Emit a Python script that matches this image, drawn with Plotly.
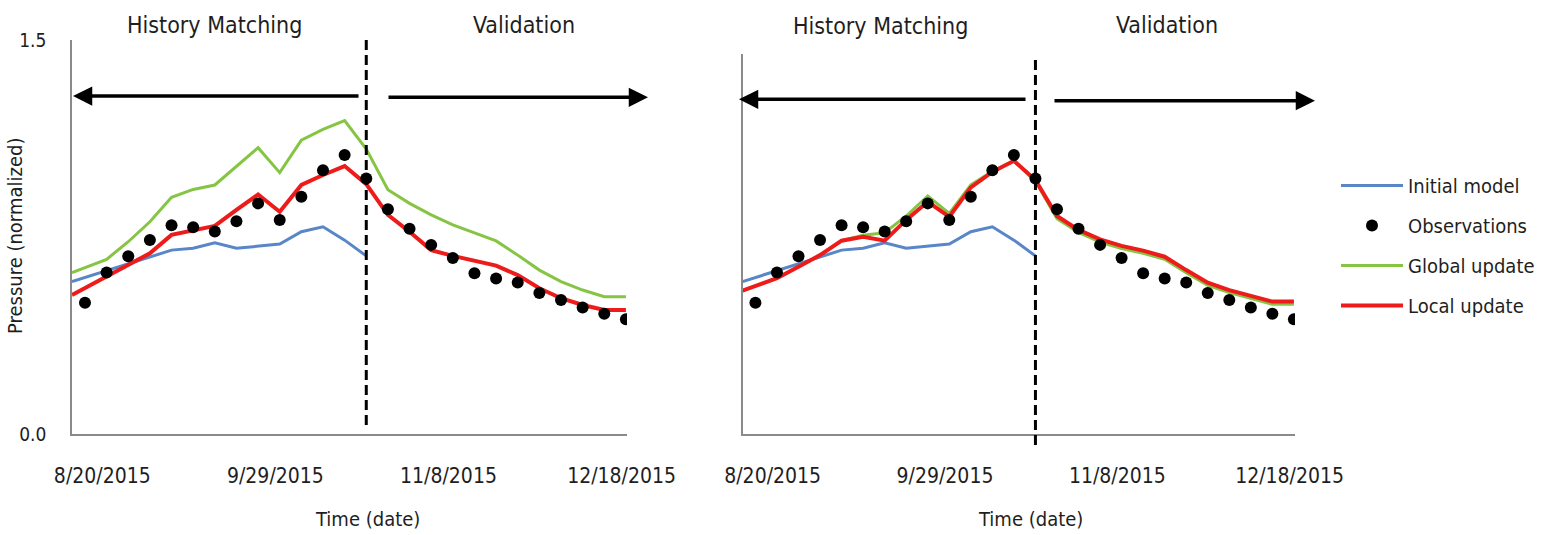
import plotly.graph_objects as go

# ---------------- data ----------------
obs_dates = ["2015-08-16", "2015-08-21", "2015-08-26", "2015-08-31", "2015-09-05",
             "2015-09-10", "2015-09-15", "2015-09-20", "2015-09-25", "2015-09-30",
             "2015-10-05", "2015-10-10", "2015-10-15", "2015-10-20", "2015-10-25",
             "2015-10-30", "2015-11-04", "2015-11-09", "2015-11-14", "2015-11-19",
             "2015-11-24", "2015-11-29", "2015-12-04", "2015-12-09", "2015-12-14",
             "2015-12-19"]
observations = [0.500, 0.615, 0.677, 0.739, 0.795, 0.787, 0.771, 0.810, 0.878, 0.815,
                0.903, 1.004, 1.062, 0.973, 0.856, 0.781, 0.720, 0.670, 0.612, 0.592,
                0.577, 0.537, 0.510, 0.482, 0.458, 0.437]

model_dates = ["2015-08-13", "2015-08-21", "2015-08-26", "2015-08-31", "2015-09-05",
               "2015-09-10", "2015-09-15", "2015-09-20", "2015-09-25", "2015-09-30",
               "2015-10-05", "2015-10-10", "2015-10-15", "2015-10-20", "2015-10-25",
               "2015-10-30", "2015-11-04", "2015-11-09", "2015-11-14", "2015-11-19",
               "2015-11-24", "2015-11-29", "2015-12-04", "2015-12-09", "2015-12-14",
               "2015-12-19"]
initial_model = [0.580, 0.622, 0.650, 0.675, 0.700, 0.707, 0.728, 0.707, 0.716, 0.723,
                 0.770, 0.789, 0.738, 0.678]

global_left = [0.614, 0.665, 0.732, 0.808, 0.901, 0.931, 0.948, 1.018, 1.090, 0.995,
               1.119, 1.160, 1.193, 1.085, 0.930, 0.878, 0.834, 0.796, 0.766, 0.735,
               0.681, 0.624, 0.580, 0.548, 0.523, 0.523]
local_left = [0.529, 0.599, 0.643, 0.688, 0.758, 0.774, 0.792, 0.853, 0.912, 0.846,
              0.948, 0.986, 1.020, 0.951, 0.834, 0.770, 0.700, 0.678, 0.660, 0.641,
              0.605, 0.555, 0.517, 0.491, 0.472, 0.472]

global_right = [0.546, 0.593, 0.637, 0.681, 0.736, 0.757, 0.766, 0.830, 0.906, 0.840,
                0.948, 1.000, 1.040, 0.962, 0.820, 0.767, 0.731, 0.706, 0.688, 0.665,
                0.614, 0.566, 0.538, 0.515, 0.494, 0.494]
local_right = [0.546, 0.593, 0.637, 0.681, 0.736, 0.751, 0.736, 0.815, 0.884, 0.827,
               0.939, 0.998, 1.040, 0.967, 0.830, 0.777, 0.741, 0.716, 0.698, 0.675,
               0.624, 0.576, 0.548, 0.525, 0.504, 0.504]

split_date = "2015-10-20"
tick_dates = ["2015-08-20", "2015-09-29", "2015-11-08", "2015-12-18"]
series_names = ["Initial model", "Observations", "Global update", "Local update"]

# ---------------- style ----------------
W, H = 1564, 535
FONT = "DejaVu Sans Condensed, Liberation Sans Narrow, DejaVu Sans, sans-serif"
TXT = "#1e1e1e"
BLUE, GREEN, RED = "#5886C6", "#86C444", "#EE1B1B"
AXC = "#8a8a8a"


def px(x):
    return x / W


def py(y):
    return 1 - y / H


fig = go.Figure()
rank = {"Initial model": 1, "Observations": 2, "Global update": 3, "Local update": 4}

for i, (gvals, lvals) in enumerate([(global_left, local_left), (global_right, local_right)]):
    xa = "x" if i == 0 else "x2"
    ya = "y" if i == 0 else "y2"
    show = i == 0
    fig.add_trace(go.Scatter(x=model_dates[:len(initial_model)], y=initial_model, mode="lines",
                             name=series_names[0], legendgroup="a", showlegend=show,
                             line=dict(color=BLUE, width=3), xaxis=xa, yaxis=ya))
    fig.add_trace(go.Scatter(x=model_dates, y=gvals, mode="lines",
                             name=series_names[2], legendgroup="c", showlegend=show,
                             line=dict(color=GREEN, width=3), xaxis=xa, yaxis=ya))
    fig.add_trace(go.Scatter(x=model_dates, y=lvals, mode="lines",
                             name=series_names[3], legendgroup="d", showlegend=show,
                             line=dict(color=RED, width=4), xaxis=xa, yaxis=ya))
    fig.add_trace(go.Scatter(x=obs_dates, y=observations, mode="markers",
                             name=series_names[1], legendgroup="b", showlegend=show,
                             marker=dict(color="black", size=12, symbol="circle"),
                             xaxis=xa, yaxis=ya))

for tr in fig.data:
    tr.legendrank = rank[tr.name]

xrange = ["2015-08-13", "2015-12-19 06:00"]
xcommon = dict(type="date", range=xrange, tickvals=tick_dates, tickformat="%-m/%-d/%Y",
               showline=True, linecolor=AXC, linewidth=1.5, ticks="", showgrid=False,
               zeroline=False, tickfont=dict(family=FONT, size=21, color=TXT),
               ticklabelstandoff=22, automargin=False)

fig.update_layout(
    width=W, height=H,
    margin=dict(l=0, r=0, t=0, b=0, autoexpand=False),
    paper_bgcolor="white", plot_bgcolor="white",
    font=dict(family=FONT, color=TXT),
    xaxis=dict(domain=[px(72), px(627)], anchor="y", **xcommon),
    xaxis2=dict(domain=[px(742.5), px(1295)], anchor="y2", **xcommon),
    yaxis=dict(domain=[py(434), py(40)], range=[0, 1.5], tickvals=[0, 1.5],
               tickformat=".1f", showline=True, linecolor=AXC, linewidth=1.5,
               ticks="", showgrid=False, zeroline=False, ticklabelstandoff=20,
               automargin=False, tickfont=dict(family=FONT, size=19, color=TXT)),
    yaxis2=dict(domain=[py(434), py(54)], range=[0, (434 - 54) / 262.67], anchor="x2",
                showticklabels=False, showline=True, linecolor=AXC, linewidth=1.5,
                ticks="", showgrid=False, zeroline=False, automargin=False),
    legend=dict(x=px(1336), y=py(166), xanchor="left", yanchor="top",
                font=dict(family=FONT, size=20, color=TXT), tracegroupgap=11,
                bgcolor="rgba(0,0,0,0)", itemwidth=62),
    showlegend=True,
)

# vertical dashed split lines
fig.add_shape(type="line", xref="x", yref="paper", x0=split_date, x1=split_date,
              y0=py(425), y1=py(39), line=dict(color="black", width=3, dash="10px,5px"))
fig.add_shape(type="line", xref="x2", yref="paper", x0=split_date, x1=split_date,
              y0=py(445), y1=py(55), line=dict(color="black", width=3, dash="10px,5px"))

# arrows
arrows = [((73, 96), 287), ((648, 97.3), -261), ((739, 99.3), 288), ((1315, 100.7), -262)]
for (hx, hy), dx in arrows:
    fig.add_annotation(x=px(hx), y=py(hy), xref="paper", yref="paper", text="",
                       showarrow=True, ax=dx, ay=0, arrowhead=2, arrowsize=1.1,
                       arrowwidth=3.5, arrowcolor="black")

# section labels
labels = [("History Matching", 214, 25), ("Validation", 524, 25),
          ("History Matching", 880, 26), ("Validation", 1167, 25)]
for t, x, y in labels:
    fig.add_annotation(x=px(x), y=py(y), xref="paper", yref="paper", text=t,
                       xanchor="center", yanchor="middle", showarrow=False,
                       font=dict(family=FONT, size=23, color=TXT))

# axis titles
for x in (367, 1030):
    fig.add_annotation(x=px(x), y=py(519), xref="paper", yref="paper", text="Time (date)",
                       xanchor="center", yanchor="middle", showarrow=False,
                       font=dict(family=FONT, size=20, color=TXT))
fig.add_annotation(x=px(15), y=py(236), xref="paper", yref="paper",
                   text="Pressure (normalized)", textangle=-90, showarrow=False,
                   xanchor="center", yanchor="middle",
                   font=dict(family=FONT, size=20, color=TXT))

fig.write_html("out.html", config={"displayModeBar": False},
               post_script="document.body.style.margin='0';document.body.style.overflow='hidden';")
